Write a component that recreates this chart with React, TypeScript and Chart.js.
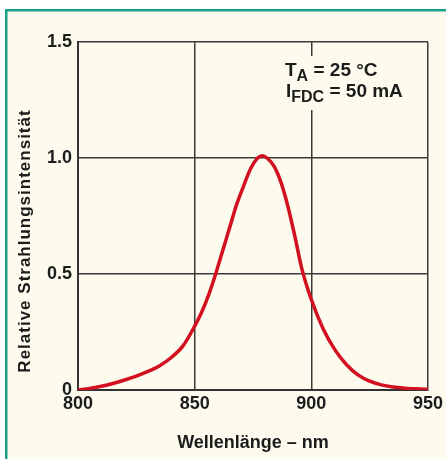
import React, { useEffect, useRef } from "react";
import { Chart, registerables } from "chart.js";

Chart.register(...registerables);

const wavelengths = [800, 805, 810, 815, 820, 825, 830, 835, 840, 845, 850, 853, 856, 859, 862, 865, 868, 871, 874, 877, 879, 881, 884, 887, 890, 893, 896, 900, 905, 910, 915, 920, 925, 930, 935, 940, 945, 950];
const intensity = [0, 0.007, 0.016, 0.028, 0.043, 0.06, 0.08, 0.105, 0.14, 0.19, 0.275, 0.335, 0.41, 0.5, 0.6, 0.7, 0.8, 0.88, 0.955, 1.0, 1.01, 1.0, 0.965, 0.895, 0.79, 0.66, 0.52, 0.39, 0.265, 0.175, 0.11, 0.065, 0.038, 0.022, 0.013, 0.008, 0.005, 0.003];
const xTicks = [800, 850, 900, 950];
const yTicks = [0, 0.5, 1.0, 1.5];
const xTitle = "Wellenlänge – nm";
const yTitle = "Relative Strahlungsintensität";
const noteLine1 = ["T", "A", " = 25 °C"];
const noteLine2 = ["I", "FDC", " = 50 mA"];

const FONT = '"Liberation Sans", Arial, Helvetica, sans-serif';
const TEXT = "#1c1c1c";
const CREAM = "#fdfbee";
const TEAL = "#17a08a";

const framePlugin = {
  id: "frame",
  beforeDraw(chart: any) {
    const { ctx, width, height } = chart;
    ctx.save();
    ctx.fillStyle = "#ffffff";
    ctx.fillRect(0, 0, width, height);
    ctx.fillStyle = CREAM;
    ctx.fillRect(7, 11, width - 7, height - 11);
    ctx.fillStyle = TEAL;
    ctx.fillRect(5, 9, width - 5, 2.5);
    ctx.fillRect(5, 9, 2.5, height - 9);
    ctx.restore();
  },
  afterDraw(chart: any) {
    const { ctx, chartArea } = chart;
    ctx.save();
    ctx.fillStyle = TEXT;
    // axis titles
    ctx.font = `bold 18px ${FONT}`;
    ctx.textAlign = "center";
    ctx.textBaseline = "alphabetic";
    ctx.fillText(xTitle, (chartArea.left + chartArea.right) / 2, 448);
    ctx.save();
    ctx.translate(30, 241);
    ctx.rotate(-Math.PI / 2);
    ctx.font = `bold 17px ${FONT}`;
    (ctx as any).letterSpacing = "1px";
    ctx.fillText(yTitle, 0, 0);
    ctx.restore();

    // annotation with background box
    ctx.fillStyle = CREAM;
    ctx.fillRect(281, 56, 130, 54);
    ctx.fillStyle = TEXT;
    ctx.textAlign = "left";
    const drawNote = (parts: string[], x: number, y: number) => {
      ctx.font = `bold 19px ${FONT}`;
      ctx.fillText(parts[0], x, y);
      x += ctx.measureText(parts[0]).width;
      ctx.font = `bold 16px ${FONT}`;
      ctx.fillText(parts[1], x, y + 5);
      x += ctx.measureText(parts[1]).width;
      ctx.font = `bold 19px ${FONT}`;
      ctx.fillText(parts[2], x, y);
    };
    drawNote(noteLine1, 285, 76);
    drawNote(noteLine2, 286, 97);
    ctx.restore();
  },
};

export default function App() {
  const ref = useRef<HTMLCanvasElement>(null);
  useEffect(() => {
    if (!ref.current) return;
    const chart = new Chart(ref.current, {
      type: "line",
      data: {
        datasets: [
          {
            data: wavelengths.map((x, i) => ({ x, y: intensity[i] })),
            borderColor: "#d3101f",
            borderWidth: 3.5,
            pointRadius: 0,
            cubicInterpolationMode: "monotone",
            fill: false,
          },
        ],
      },
      options: {
        responsive: false,
        animation: false,
        devicePixelRatio: 1,
        layout: { padding: { left: 0, top: 42, right: 16, bottom: 0 } },
        plugins: { legend: { display: false }, tooltip: { enabled: false } },
        scales: {
          x: {
            type: "linear",
            min: 800,
            max: 950,
            afterBuildTicks: (s: any) => {
              s.ticks = xTicks.map((v) => ({ value: v }));
            },
            afterFit: (s: any) => {
              s.height = 69;
            },
            ticks: {
              font: { family: FONT, size: 18, weight: "bold" },
              color: TEXT,
              padding: 3,
              maxRotation: 0,
            },
            grid: { color: "#3a3a3a", lineWidth: 1.5, drawTicks: false },
            border: { display: true, color: "#333333", width: 2 },
          },
          y: {
            type: "linear",
            min: 0,
            max: 1.5,
            afterBuildTicks: (s: any) => {
              s.ticks = yTicks.map((v) => ({ value: v }));
            },
            afterFit: (s: any) => {
              s.width = 78;
            },
            ticks: {
              font: { family: FONT, size: 18, weight: "bold" },
              color: TEXT,
              padding: 6,
              callback: (v: any) => (Number(v) === 0 ? "0" : Number(v).toFixed(1)),
            },
            grid: { color: "#3a3a3a", lineWidth: 1.5, drawTicks: false },
            border: { display: true, color: "#333333", width: 2 },
          },
        },
      },
      plugins: [framePlugin],
    });
    return () => chart.destroy();
  }, []);
  return (
    <div style={{ position: "absolute", left: 0, top: 0, width: 446, height: 459 }}>
      <canvas ref={ref} width={446} height={459} style={{ width: 446, height: 459, display: "block" }} />
    </div>
  );
}
